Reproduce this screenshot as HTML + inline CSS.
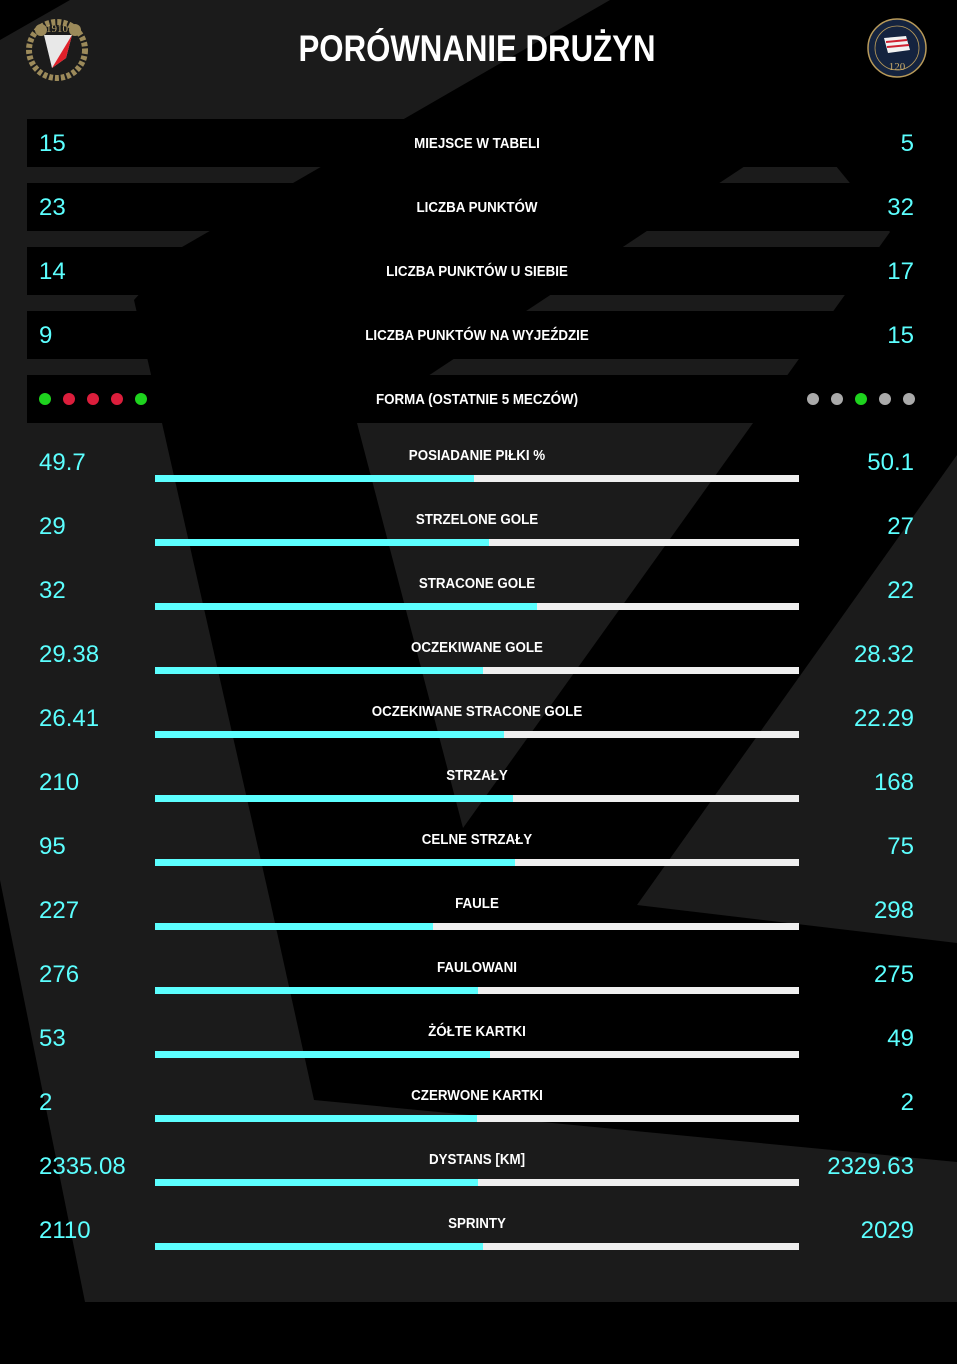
<!DOCTYPE html>
<html><head><meta charset="utf-8"><style>
html,body{margin:0;padding:0;background:#000;}
svg{display:block;}
.t{font-family:"Liberation Sans",sans-serif;font-weight:bold;fill:#fff;}
.n{font-family:"Liberation Sans",sans-serif;fill:#5cffff;font-size:24px;}
.l{font-family:"Liberation Sans",sans-serif;font-weight:bold;fill:#fff;font-size:15px;}
</style></head><body>
<svg width="957" height="1364" viewBox="0 0 957 1364" xmlns="http://www.w3.org/2000/svg">
<rect width="957" height="1364" fill="#000"/>
<polygon fill="#1b1b1b" points="70,0 610,0 293,183 182,247 134,300 162,423 271,905 314,1100 957,1162 957,1302 85,1302 0,880 0,40"/>
<polygon fill="#1b1b1b" points="804,127 890,232 753,423 463,828 357,423"/>
<polygon fill="#1b1b1b" points="957,455 957,943 637,905"/>
<g>
<circle cx="57" cy="50" r="28" fill="none" stroke="#9c8a5a" stroke-width="6" stroke-dasharray="4 2"/>
<circle cx="41" cy="30" r="6" fill="#9c8a5a"/><circle cx="75" cy="30" r="6" fill="#9c8a5a"/>
<text x="57" y="32" font-family="Liberation Serif,serif" font-size="11" fill="#b8a36a" text-anchor="middle">1910</text>
<path d="M44,35 L72,35 L66,58 L52,68 Z" fill="#e8e8e8"/>
<path d="M72,35 L66,58 L52,68 Z" fill="#e0202a"/>
</g>
<g>
<circle cx="897" cy="48" r="29" fill="#14233f" stroke="#b89a5a" stroke-width="1.5"/>
<circle cx="897" cy="48" r="22" fill="none" stroke="#b89a5a" stroke-width="0.8"/>
<path d="M884,38 L906,36 L910,50 L888,53 Z" fill="#f2f2f2"/>
<path d="M886,42 L907,40 M887,47 L909,45" stroke="#d02030" stroke-width="2"/>
<text x="897" y="70" font-family="Liberation Serif,serif" font-size="11" fill="#c8aa6a" text-anchor="middle">120</text>
</g>
<text class="t" x="477" y="61" font-size="37" text-anchor="middle" textLength="357" lengthAdjust="spacingAndGlyphs">PORÓWNANIE DRUŻYN</text>
<g>
<rect x="27" y="119" width="930" height="48" fill="#000"/>
<rect x="27" y="183" width="930" height="48" fill="#000"/>
<rect x="27" y="247" width="930" height="48" fill="#000"/>
<rect x="27" y="311" width="930" height="48" fill="#000"/>
<rect x="27" y="375" width="930" height="48" fill="#000"/>
</g>
<g class="n">
<text x="39" y="151">15</text><text x="914" y="151" text-anchor="end">5</text>
<text x="39" y="215">23</text><text x="914" y="215" text-anchor="end">32</text>
<text x="39" y="279">14</text><text x="914" y="279" text-anchor="end">17</text>
<text x="39" y="343">9</text><text x="914" y="343" text-anchor="end">15</text>
</g>
<g class="l" text-anchor="middle" transform="translate(477,0) scale(0.89,1) translate(-477,0)">
<text x="477" y="148">MIEJSCE W TABELI</text>
<text x="477" y="212">LICZBA PUNKTÓW</text>
<text x="477" y="276">LICZBA PUNKTÓW U SIEBIE</text>
<text x="477" y="340">LICZBA PUNKTÓW NA WYJEŹDZIE</text>
<text x="477" y="404">FORMA (OSTATNIE 5 MECZÓW)</text>
<text x="477" y="460">POSIADANIE PIŁKI %</text>
<text x="477" y="524">STRZELONE GOLE</text>
<text x="477" y="588">STRACONE GOLE</text>
<text x="477" y="652">OCZEKIWANE GOLE</text>
<text x="477" y="716">OCZEKIWANE STRACONE GOLE</text>
<text x="477" y="780">STRZAŁY</text>
<text x="477" y="844">CELNE STRZAŁY</text>
<text x="477" y="908">FAULE</text>
<text x="477" y="972">FAULOWANI</text>
<text x="477" y="1036">ŻÓŁTE KARTKI</text>
<text x="477" y="1100">CZERWONE KARTKI</text>
<text x="477" y="1164">DYSTANS [KM]</text>
<text x="477" y="1228">SPRINTY</text>
</g>
<g>
<circle cx="45" cy="399" r="6" fill="#1ed31e"/><circle cx="69" cy="399" r="6" fill="#dc1e3c"/><circle cx="93" cy="399" r="6" fill="#dc1e3c"/><circle cx="117" cy="399" r="6" fill="#dc1e3c"/><circle cx="141" cy="399" r="6" fill="#1ed31e"/>
<circle cx="813" cy="399" r="6" fill="#aaa"/><circle cx="837" cy="399" r="6" fill="#aaa"/><circle cx="861" cy="399" r="6" fill="#1ed31e"/><circle cx="885" cy="399" r="6" fill="#aaa"/><circle cx="909" cy="399" r="6" fill="#aaa"/>
</g>
<g class="n">
<text x="39" y="470">49.7</text><text x="914" y="470" text-anchor="end">50.1</text>
<text x="39" y="534">29</text><text x="914" y="534" text-anchor="end">27</text>
<text x="39" y="598">32</text><text x="914" y="598" text-anchor="end">22</text>
<text x="39" y="662">29.38</text><text x="914" y="662" text-anchor="end">28.32</text>
<text x="39" y="726">26.41</text><text x="914" y="726" text-anchor="end">22.29</text>
<text x="39" y="790">210</text><text x="914" y="790" text-anchor="end">168</text>
<text x="39" y="854">95</text><text x="914" y="854" text-anchor="end">75</text>
<text x="39" y="918">227</text><text x="914" y="918" text-anchor="end">298</text>
<text x="39" y="982">276</text><text x="914" y="982" text-anchor="end">275</text>
<text x="39" y="1046">53</text><text x="914" y="1046" text-anchor="end">49</text>
<text x="39" y="1110">2</text><text x="914" y="1110" text-anchor="end">2</text>
<text x="39" y="1174">2335.08</text><text x="914" y="1174" text-anchor="end">2329.63</text>
<text x="39" y="1238">2110</text><text x="914" y="1238" text-anchor="end">2029</text>
</g>
<g>
<rect x="155" y="475" width="644" height="7" fill="#efefef"/><rect x="155" y="475" width="319" height="7" fill="#5cffff"/>
<rect x="155" y="539" width="644" height="7" fill="#efefef"/><rect x="155" y="539" width="334" height="7" fill="#5cffff"/>
<rect x="155" y="603" width="644" height="7" fill="#efefef"/><rect x="155" y="603" width="382" height="7" fill="#5cffff"/>
<rect x="155" y="667" width="644" height="7" fill="#efefef"/><rect x="155" y="667" width="328" height="7" fill="#5cffff"/>
<rect x="155" y="731" width="644" height="7" fill="#efefef"/><rect x="155" y="731" width="349" height="7" fill="#5cffff"/>
<rect x="155" y="795" width="644" height="7" fill="#efefef"/><rect x="155" y="795" width="358" height="7" fill="#5cffff"/>
<rect x="155" y="859" width="644" height="7" fill="#efefef"/><rect x="155" y="859" width="360" height="7" fill="#5cffff"/>
<rect x="155" y="923" width="644" height="7" fill="#efefef"/><rect x="155" y="923" width="278" height="7" fill="#5cffff"/>
<rect x="155" y="987" width="644" height="7" fill="#efefef"/><rect x="155" y="987" width="323" height="7" fill="#5cffff"/>
<rect x="155" y="1051" width="644" height="7" fill="#efefef"/><rect x="155" y="1051" width="335" height="7" fill="#5cffff"/>
<rect x="155" y="1115" width="644" height="7" fill="#efefef"/><rect x="155" y="1115" width="322" height="7" fill="#5cffff"/>
<rect x="155" y="1179" width="644" height="7" fill="#efefef"/><rect x="155" y="1179" width="323" height="7" fill="#5cffff"/>
<rect x="155" y="1243" width="644" height="7" fill="#efefef"/><rect x="155" y="1243" width="328" height="7" fill="#5cffff"/>
</g>
</svg>
</body></html>
